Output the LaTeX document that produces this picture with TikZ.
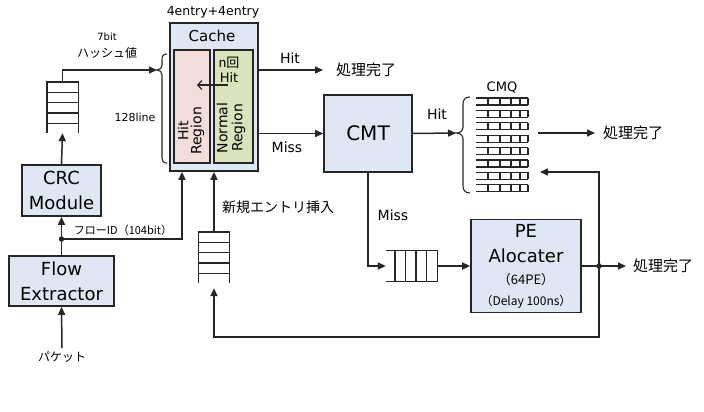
\documentclass[tikz,border=0pt]{standalone}
\usepackage{fontspec}
\setmainfont{DejaVu Sans}
\newfontfamily\jp{Noto Sans CJK JP}
\usetikzlibrary{arrows.meta}

\definecolor{boxfill}{RGB}{222,231,243}
\definecolor{hitfill}{RGB}{243,221,220}
\definecolor{normfill}{RGB}{216,228,188}
\definecolor{linecol}{RGB}{38,38,38}

\tikzset{
	box/.style={draw=linecol, line width=1.7pt, fill=boxfill, align=center, inner sep=0pt},
	region/.style={draw=linecol, line width=1.4pt, inner sep=0pt},
	arr/.style={line width=1.5pt, draw=linecol, -{Triangle[length=8pt,width=7pt]}},
	qline/.style={line width=1.4pt, draw=linecol},
	qnode/.style={inner sep=0pt},
	brace/.style={line width=1.1pt, draw=linecol},
	done/.style={anchor=west, inner sep=0pt, font=\jp\fontsize{15}{18}\selectfont},
	dot/.style={circle, fill=linecol, inner sep=0pt, minimum size=5.5pt},
}

\begin{document}
\begin{tikzpicture}[x=1pt,y=-1pt]
	\useasboundingbox (0,0) rectangle (704,412);
	% boxes
	\node[box, minimum width=79pt, minimum height=51pt, font=\fontsize{18}{25}\selectfont] (crc) at (61.5,190.5) {CRC\\Module};
	\node[box, minimum width=105pt, minimum height=50pt, font=\fontsize{18}{25}\selectfont] (flow) at (61.5,281) {Flow\\Extractor};
	\node[box, minimum width=88pt, minimum height=148pt] (cache) at (214,97) {};
	\node[region, fill=hitfill, minimum width=36pt, minimum height=113pt] (hitreg) at (192,106.5) {};
	\node[region, fill=normfill, minimum width=39pt, minimum height=113pt] (normreg) at (233.5,106.5) {};
	\node[box, minimum width=88pt, minimum height=77pt, font=\fontsize{20}{24}\selectfont] (cmt) at (368,133.5) {CMT};
	\node[box, minimum width=110pt, minimum height=93pt, font=\fontsize{18}{25}\selectfont] (pe) at (526,266) {PE\\Alocater\\[-3pt]{\jp\fontsize{13}{15}\selectfont （64PE）}\\[-4pt]{\jp\fontsize{12}{14}\selectfont （Delay 100ns）}};
	%
	\node[font=\fontsize{15}{18}\selectfont] (cachelbl) at (212,36) {Cache};
	\node[rotate=90, align=center, font=\fontsize{14}{13}\selectfont] (hittxt) at (191,131) {Hit\\Region};
	\node[rotate=90, align=center, font=\fontsize{14}{15}\selectfont] (normtxt) at (231,128) {Normal\\Region};
	\node[align=center, font=\fontsize{13}{15}\selectfont] (nhit) at (229,70) {{\jp n回}\\Hit};
	\coordinate (nstart) at (228,85);
	\coordinate (nend) at (197,85);
	\draw[line width=1.2pt, draw=linecol, -{Straight Barb[length=4pt,width=9pt]}] (nstart) -- (nend);
	% queues
	\node[qnode, minimum width=31pt, minimum height=51pt] (inq) at (62.5,107.5) {};
	\node[qnode, minimum width=31pt, minimum height=51pt] (nq) at (214,257.5) {};
	\foreach \q in {inq,nq} {
		\draw[qline] (\q.south west) -- (\q.north west) -- (\q.north east) -- (\q.south east);
		\foreach \k in {1,...,4}
			\draw[qline] ([yshift=-\k*10.4pt]\q.north west) -- ([yshift=-\k*10.4pt]\q.north east);
	}
	\node[qnode, minimum width=51pt, minimum height=31pt] (pq) at (411.5,266) {};
	\draw[qline] (pq.north west) -- (pq.north east) -- (pq.south east) -- (pq.south west);
	\foreach \d in {9,19.5,30,40.5}
		\draw[qline] ([xshift=\d pt]pq.north west) -- ([xshift=\d pt]pq.south west);
	% CMQ
	\node[font=\fontsize{13}{15}\selectfont] (cmqlbl) at (502,88) {CMQ};
	\foreach \r in {0,...,7} {
		\pgfmathsetmacro\ty{98+12.4*\r}
		\draw[line width=1.1pt, draw=linecol] (476,\ty) -- (528,\ty) (476,\ty+7) -- (528,\ty+7);
		\foreach \c in {488,500,511,520,528}
			\draw[line width=1.1pt, draw=linecol] (\c,\ty) -- (\c,\ty+7);
	}
	% braces
	\coordinate (brA) at (157,70);
	\coordinate (brB) at (456,133);
	\draw[brace] (167,54) .. controls (163,54) and (162,56) .. (162,60) -- (162,65) .. controls (162,68) and (160,70) .. (brA) .. controls (160,70) and (162,72) .. (162,75) -- (162,158) .. controls (162,161) and (163,163) .. (167,163);
	\draw[brace] (470,97) .. controls (465,97) and (463,100) .. (463,104) -- (463,127) .. controls (463,131) and (460,133) .. (brB) .. controls (460,133) and (463,135) .. (463,139) -- (463,186) .. controls (463,190) and (465,193) .. (470,193);
	% labels
	\node[font=\fontsize{12.5}{14}\selectfont] (entries) at (213,12) {4entry+4entry};
	\node[font=\fontsize{10}{12}\selectfont] (bits) at (107,37) {7bit};
	\node[font=\jp\fontsize{12}{14}\selectfont] (hash) at (107,53) {ハッシュ値};
	\node[font=\fontsize{11}{13}\selectfont] (lines) at (135,117) {128line};
	\node[font=\jp\fontsize{11}{13}\selectfont] (fid) at (123,230) {フローID（104bit）};
	\node[font=\jp\fontsize{14}{16}\selectfont] (newent) at (278,207) {新規エントリ挿入};
	\node[font=\jp\fontsize{12}{14}\selectfont] (pkt) at (62,357) {パケット};
	\node[font=\fontsize{14}{16}\selectfont] (hit1) at (290,58) {Hit};
	\node[font=\fontsize{14}{16}\selectfont] (miss1) at (287,147) {Miss};
	\node[font=\fontsize{14}{16}\selectfont] (hit2) at (437,114) {Hit};
	\node[font=\fontsize{14}{16}\selectfont] (miss2) at (393,215) {Miss};
	\node[done] (done1) at (336,70) {処理完了};
	\node[done] (done2) at (603,133) {処理完了};
	\node[done] (done3) at (633,266) {処理完了};
	\node[dot] (fj) at (61.5,239) {};
	\node[dot] (jn) at (599,266) {};
	\coordinate (cmqout) at (538,133);
	\coordinate (cmqin) at (540,172);
	\coordinate (lp) at (599,337);
	% connectors
	\draw[arr] (pkt.north) -- (flow.south);
	\draw[arr] (flow.north) -- (crc.south);
	\draw[arr] (fj.center) -| ([xshift=-32pt]cache.south);
	\draw[arr] (crc.north) -- (inq.south);
	\draw[arr] (inq.north) |- (brA);
	\draw[arr] (cache.east |- 0,70) -- ([xshift=-13pt]done1.west);
	\draw[arr] (cache.east |- cmt.west) -- (cmt.west);
	\draw[arr] (cmt.east) -- (brB);
	\draw[arr] (cmqout) -- ([xshift=-8pt]done2.west);
	\draw[arr] (cmt.south) |- (pq.west);
	\draw[arr] (pq.east) -- (pe.west);
	\draw[arr] (pe.east) -- ([xshift=-7pt]done3.west);
	\draw[arr] (jn.center) |- (cmqin);
	\draw[arr, shorten >=5pt] (jn.center) -- (lp) -| (nq.south);
	\draw[arr] (nq.north) -- (nq.north |- cache.south);
\end{tikzpicture}
\end{document}
